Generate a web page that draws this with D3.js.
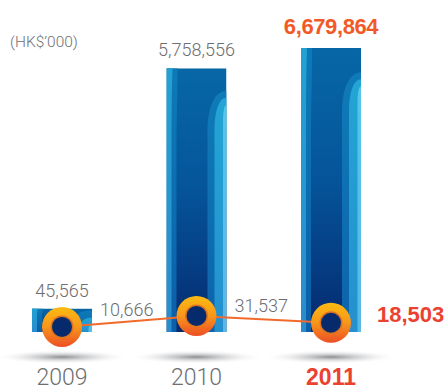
<!DOCTYPE html>
<html>
<head>
<meta charset="utf-8">
<script src="https://cdn.jsdelivr.net/npm/d3@7"></script>
<style>
  html, body { margin: 0; padding: 0; background: #ffffff; }
  svg { display: block; }
</style>
</head>
<body>
<div id="chart"></div>
<script>
// Yearly totals (bars) and yearly counts (line), HK$'000
const years = ["2009", "2010", "2011"];
const barValues = [45565, 5758556, 6679864];
const lineValues = [10666, 31537, 18503];
const unitLabel = "(HK$\u2019000)";
const highlightYear = "2011";

const W = 445, H = 391;
const baseY = 332;

const svg = d3.select("#chart").append("svg")
  .attr("width", W).attr("height", H);

const defs = svg.append("defs");

function vGrad(id, stops) {
  const g = defs.append("linearGradient").attr("id", id)
    .attr("x1", 0).attr("y1", 0).attr("x2", 0).attr("y2", 1);
  stops.forEach(([o, c]) => g.append("stop").attr("offset", o).attr("stop-color", c));
}
vGrad("barMain", [[0, "#0767a6"], [0.45, "#05559b"], [0.8, "#053a80"], [1, "#05286c"]]);
vGrad("edgeLight", [[0, "#22a2d2"], [1, "#2a8ccd"]]);
vGrad("edgeMid", [[0, "#0d7ab8"], [1, "#0c5fa8"]]);
vGrad("archMid", [[0, "#0f7bb8"], [1, "#0d63ab"]]);
vGrad("archLight", [[0, "#22a5d4"], [1, "#2590cf"]]);
vGrad("archPale", [[0, "#52c6e9"], [1, "#5ab8e6"]]);
vGrad("ringGrad", [[0, "#fdbb12"], [0.5, "#f8961b"], [1, "#ec4e24"]]);

const shadowGrad = defs.append("radialGradient").attr("id", "shadowGrad");
shadowGrad.append("stop").attr("offset", 0).attr("stop-color", "#6f7275").attr("stop-opacity", 0.8);
shadowGrad.append("stop").attr("offset", 0.45).attr("stop-color", "#a3a5a8").attr("stop-opacity", 0.4);
shadowGrad.append("stop").attr("offset", 1).attr("stop-color", "#ffffff").attr("stop-opacity", 0);

// Scales
const x = d3.scaleBand().domain(years).range([32, 361]).paddingInner(0.554).paddingOuter(0);
const yBar = d3.scaleSqrt().domain([0, 6679864]).range([baseY, 48]);
const yLine = d3.scaleLinear().domain([0, 40000]).range([baseY + 0.5, 311.5]);

const bw = x.bandwidth();
const cx = d => x(d) + bw / 2;

// Floor shadows
svg.append("g").selectAll("ellipse").data(years).join("ellipse")
  .attr("cx", d => cx(d)).attr("cy", 357)
  .attr("rx", 68).attr("ry", 7)
  .attr("fill", "url(#shadowGrad)");

// Unit label
svg.append("text")
  .attr("x", 10).attr("y", 47)
  .attr("font-family", "Roboto, 'Liberation Sans', sans-serif")
  .attr("font-weight", 300)
  .attr("font-size", 15.5)
  .attr("fill", "#707174")
  .text(unitLabel);

// Bars with decorative stripes
const bars = svg.append("g").selectAll("g").data(years).join("g");
bars.each(function (d, i) {
  const g = d3.select(this);
  const x0 = x(d), y0 = yBar(barValues[i]), h = baseY - y0;
  const clipId = "clip" + i;
  defs.append("clipPath").attr("id", clipId)
    .append("rect").attr("x", x0).attr("y", y0).attr("width", bw).attr("height", h);
  const inner = g.append("g").attr("clip-path", `url(#${clipId})`);

  inner.append("rect").attr("x", x0).attr("y", y0).attr("width", bw).attr("height", h)
    .attr("fill", "url(#barMain)");
  // left edge bands
  inner.append("path")
    .attr("d", `M${x0},${y0} H${x0 + 11} C${x0 + 11},${y0 + h * 0.12} ${x0 + 10},${y0 + h * 0.2} ${x0 + 10},${y0 + h * 0.3} V${baseY} H${x0} Z`)
    .attr("fill", "url(#edgeMid)");
  inner.append("path")
    .attr("d", `M${x0},${y0} H${x0 + 6} C${x0 + 5},${y0 + h * 0.1} ${x0 + 5},${y0 + h * 0.2} ${x0 + 5},${y0 + h * 0.3} V${baseY} H${x0} Z`)
    .attr("fill", "url(#edgeLight)");

  // right-hand arches
  const xr = x0 + bw;
  const a = y0 + Math.max(2, h * 0.085);
  const arch = (wd, top, ry) =>
    `M${xr},${top} C${xr - wd * 0.6},${top} ${xr - wd},${top + ry * 0.4} ${xr - wd},${top + ry} V${baseY} H${xr} Z`;
  const ry = Math.min(40, h * 0.5);
  inner.append("path").attr("d", arch(19, a, ry)).attr("fill", "url(#archMid)");
  inner.append("path").attr("d", arch(12, a + 7, ry * 0.8)).attr("fill", "url(#archLight)");
  inner.append("path").attr("d", arch(3.5, a + 14, ry * 0.4)).attr("fill", "url(#archPale)");
});

// Bar value labels
svg.append("g").selectAll("text").data(years).join("text")
  .attr("x", d => cx(d))
  .attr("y", (d, i) => yBar(barValues[i]) - (d === highlightYear ? 14 : 12))
  .attr("text-anchor", "middle")
  .attr("font-family", d => d === highlightYear ? "'Liberation Sans', Arial, sans-serif" : "Roboto, 'Liberation Sans', sans-serif")
  .attr("font-weight", d => d === highlightYear ? 700 : 300)
  .attr("font-size", d => d === highlightYear ? 22 : 18)
  .attr("letter-spacing", d => d === highlightYear ? -0.4 : 0)
  .attr("fill", d => d === highlightYear ? "#f15a27" : "#6d6e71")
  .text((d, i) => d3.format(",")(barValues[i]));

// Line through the yearly counts
const pts = years.map((d, i) => [cx(d), yLine(lineValues[i])]);
svg.append("path")
  .attr("d", d3.line()(pts))
  .attr("fill", "none")
  .attr("stroke", "#f26a2b")
  .attr("stroke-width", 2);

// Ring markers
const rings = svg.append("g").selectAll("g").data(years).join("g")
  .attr("transform", (d, i) => `translate(${pts[i][0]},${pts[i][1]})`);
rings.append("circle").attr("r", 20).attr("fill", "url(#ringGrad)");
rings.append("circle").attr("r", 11.5).attr("fill", "#dc7420");
rings.append("circle").attr("r", 10).attr("fill", "#072a6c");

// Line value labels
const lineDy = [-11, -4, -1];
svg.append("g").selectAll("text").data(years).join("text")
  .attr("x", (d, i) => pts[i][0] + (d === highlightYear ? 46 : 38))
  .attr("y", (d, i) => pts[i][1] + lineDy[i])
  .attr("font-family", d => d === highlightYear ? "'Liberation Sans', Arial, sans-serif" : "Roboto, 'Liberation Sans', sans-serif")
  .attr("font-weight", d => d === highlightYear ? 700 : 300)
  .attr("font-size", d => d === highlightYear ? 22 : 18)
  .attr("fill", d => d === highlightYear ? "#eb4131" : "#6d6e71")
  .text((d, i) => d3.format(",")(lineValues[i]));

// Year labels
svg.append("g").selectAll("text").data(years).join("text")
  .attr("x", d => cx(d))
  .attr("y", 385)
  .attr("text-anchor", "middle")
  .attr("font-family", d => d === highlightYear ? "'Liberation Sans', Arial, sans-serif" : "Roboto, 'Liberation Sans', sans-serif")
  .attr("font-weight", d => d === highlightYear ? 700 : 300)
  .attr("font-size", 23)
  .attr("fill", d => d === highlightYear ? "#eb4131" : "#6d6e71")
  .text(d => d);
</script>
</body>
</html>
